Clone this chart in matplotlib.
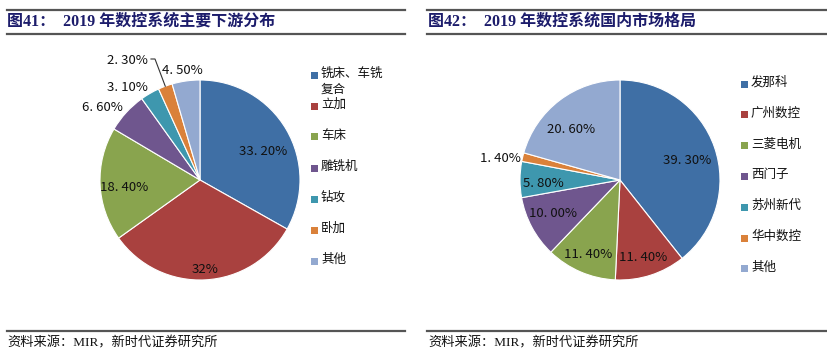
import numpy as np
import matplotlib
matplotlib.use("Agg")
import matplotlib.pyplot as plt
from matplotlib.patches import Rectangle
from matplotlib.lines import Line2D

W, H = 828, 355

# data
left_title = "图41：  2019 年数控系统主要下游分布"
left_labels = ["铣床、车铣\n复合", "立加", "车床", "雕铣机", "钻攻", "卧加", "其他"]
left_values = [33.2, 32.0, 18.4, 6.6, 3.1, 2.3, 4.5]
left_texts = ["33. 20%", "32%", "18. 40%", "6. 60%", "3. 10%", "2. 30%", "4. 50%"]

right_title = "图42：  2019 年数控系统国内市场格局"
right_labels = ["发那科", "广州数控", "三菱电机", "西门子", "苏州新代", "华中数控", "其他"]
right_values = [39.3, 11.4, 11.4, 10.0, 5.8, 1.4, 20.6]
right_texts = ["39. 30%", "11. 40%", "11. 40%", "10. 00%", "5. 80%", "1. 40%", "20. 60%"]

source = "资料来源：MIR，新时代证券研究所"

colors = ["#3F6FA5", "#A9413F", "#89A44E", "#6F568E", "#3E97AE", "#DA813A", "#93A9D0"]
navy = "#1C1C6B"
cjk = ["Noto Sans CJK SC", "DejaVu Sans"]
serif_cjk = ["Liberation Serif", "Noto Sans CJK SC"]

fig = plt.figure(figsize=(W / 100, H / 100), dpi=100)
fig.patch.set_facecolor("white")


def fx(x):
    return x / W


def fy(y):
    return 1 - y / H


def hline(x0, x1, y, lw=1.6, color="#555555"):
    fig.add_artist(Line2D([fx(x0), fx(x1)], [fy(y), fy(y)], color=color, lw=lw,
                          transform=fig.transFigure))


def draw_pie(cx, cy, r, values, texts, lab_r, lab_shift):
    ax = fig.add_axes([fx(cx - r), fy(cy + r), 2 * r / W, 2 * r / H])
    wedges, _ = ax.pie(values, colors=colors, startangle=90, counterclock=False,
                       wedgeprops=dict(edgecolor="white", linewidth=0.8))
    ax.set_xlim(-1, 1)
    ax.set_ylim(-1, 1)
    ax.set_aspect("auto")
    ax.axis("off")
    for w, t, rr, sh in zip(wedges, texts, lab_r, lab_shift):
        ang = np.deg2rad((w.theta1 + w.theta2) / 2 + sh)
        ax.text(rr * np.cos(ang), rr * np.sin(ang), t, ha="center", va="center",
                fontsize=9.5, family=cjk, color="#111111", clip_on=False)
    return ax, wedges


def draw_legend(x, y0, step, labels):
    for i, lab in enumerate(labels):
        y = y0 + i * step
        fig.add_artist(Rectangle((fx(x), fy(y + 3.5)), 7 / W, 7 / H, facecolor=colors[i],
                                 edgecolor="none", transform=fig.transFigure))
        fig.text(fx(x + 10), fy(y - 8), lab, ha="left", va="top", fontsize=9,
                 family=cjk, color="#111111", linespacing=1.25)


# header / footer lines
for x0, x1 in [(7, 405), (427, 826)]:
    hline(x0, x1, 10)
    hline(x0, x1, 34)
    hline(x0, x1, 331)

fig.text(fx(7), fy(22), left_title, ha="left", va="center", fontsize=11.5,
         fontweight="bold", color=navy, family=serif_cjk)
fig.text(fx(428), fy(22), right_title, ha="left", va="center", fontsize=11.5,
         fontweight="bold", color=navy, family=serif_cjk)
fig.text(fx(7), fy(343), source, ha="left", va="center", fontsize=9.5,
         color="#111111", family=serif_cjk)
fig.text(fx(428), fy(343), source, ha="left", va="center", fontsize=9.5,
         color="#111111", family=serif_cjk)

# left pie
axl, wl = draw_pie(200, 180, 100, left_values, left_texts,
                   [0.69, 0.90, 0.76, 1.21, 1.18, 1.40, 1.11],
                   [-6, 0, 3, 6, 8, 11, 1])
# leader line from the 2.30% label to the small orange slice
w = wl[5]
a = np.deg2rad((w.theta1 + w.theta2) / 2)
axl.plot([-0.49, -0.45, np.cos(a)], [1.21, 1.21, np.sin(a)], color="#333333",
         lw=0.8, clip_on=False)
draw_legend(311, 75, 31, left_labels)

# right pie
draw_pie(620, 180, 100, right_values, right_texts,
         [0.70, 0.81, 0.81, 0.75, 0.77, 1.22, 0.71],
         [-3, -1.5, 0, -2, 3, 3, 7])
draw_legend(741, 84, 30.8, right_labels)

fig.savefig("out.png", dpi=100)
